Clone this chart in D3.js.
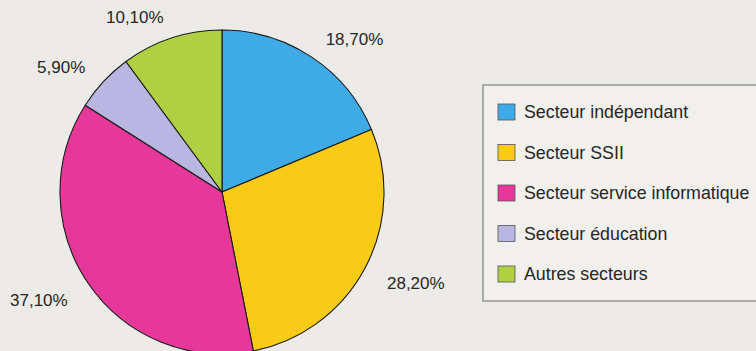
<!DOCTYPE html>
<html>
<head>
<meta charset="utf-8">
<script src="https://cdn.jsdelivr.net/npm/d3@7"></script>
<style>
  html, body { margin: 0; padding: 0; background: #ecebe7; }
  svg { display: block; }
  text { font-family: "Liberation Sans", Arial, Helvetica, sans-serif; fill: #262626; }
</style>
</head>
<body>
<svg id="chart" width="756" height="351"></svg>
<script>
// Répartition par secteur (en %)
const categories = ["Secteur indépendant", "Secteur SSII", "Secteur service informatique", "Secteur éducation", "Autres secteurs"];
const values = [18.7, 28.2, 37.1, 5.9, 10.1];
const valueLabels = ["18,70%", "28,20%", "37,10%", "5,90%", "10,10%"];
const colors = ["#3eaae6", "#f9cb16", "#e6389a", "#bab6e2", "#b0cf42"];

const data = categories.map((c, i) => ({ category: c, value: values[i], label: valueLabels[i], color: colors[i] }));

const svg = d3.select("#chart");
const cx = 222, cy = 192, radius = 162;

const pie = d3.pie().value(d => d.value).sort(null);
const arcs = pie(data);
const arc = d3.arc().innerRadius(0).outerRadius(radius);
const labelArc = d3.arc().innerRadius(187).outerRadius(187);

const g = svg.append("g").attr("transform", `translate(${cx},${cy})`);

g.selectAll("path.slice")
  .data(arcs)
  .join("path")
  .attr("class", "slice")
  .attr("d", arc)
  .attr("fill", d => d.data.color)
  .attr("stroke", "#1a1a1a")
  .attr("stroke-width", 1.1)
  .attr("stroke-linejoin", "round");

// Percentage labels outside the pie
g.selectAll("text.pct")
  .data(arcs)
  .join("text")
  .attr("class", "pct")
  .attr("x", d => labelArc.centroid(d)[0])
  .attr("y", d => labelArc.centroid(d)[1] + 3)
  .attr("dominant-baseline", "central")
  .attr("text-anchor", d => labelArc.centroid(d)[0] >= 0 ? "start" : "end")
  .attr("font-size", 17)
  .text(d => d.data.label);

// Legend
const legend = svg.append("g").attr("transform", "translate(483,85)");
legend.append("rect")
  .attr("x", 0).attr("y", 0)
  .attr("width", 290).attr("height", 216)
  .attr("fill", "#f1f0ed")
  .attr("stroke", "#6d6d6d")
  .attr("stroke-width", 1);

const rowY = d3.scalePoint().domain(categories).range([27, 189]);

const items = legend.selectAll("g.item")
  .data(data)
  .join("g")
  .attr("class", "item")
  .attr("transform", d => `translate(15,${rowY(d.category)})`);

items.append("rect")
  .attr("x", 0).attr("y", -8)
  .attr("width", 17).attr("height", 16)
  .attr("fill", d => d.color)
  .attr("stroke", "#555")
  .attr("stroke-width", 0.8);

items.append("text")
  .attr("x", 26)
  .attr("y", 0)
  .attr("dominant-baseline", "central")
  .attr("font-size", 17.8)
  .text(d => d.category);
</script>
</body>
</html>
